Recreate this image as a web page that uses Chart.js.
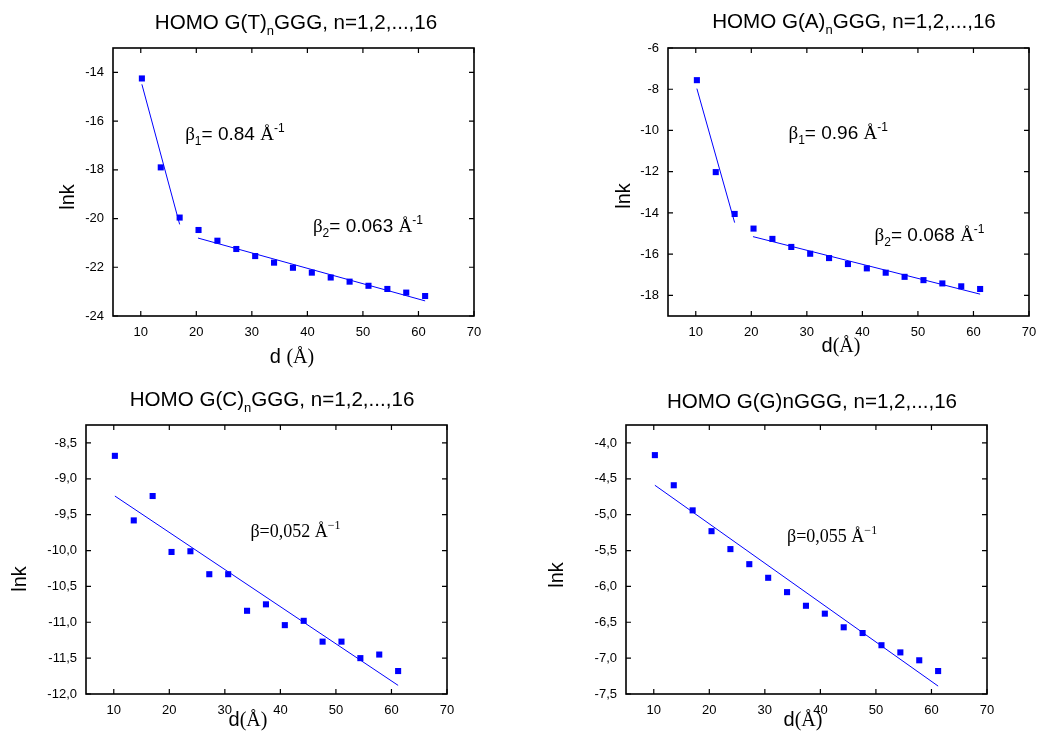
<!DOCTYPE html>
<html>
<head>
<meta charset="UTF-8">
<title>HOMO lnk vs d</title>
<script src="https://cdn.jsdelivr.net/npm/chart.js"></script>
<style>
body { margin: 0; background: #fff; }
.panel { position: absolute; }
</style>
</head>
<body>
<div class="panel" style="left:0;top:0"><canvas id="cT" width="520" height="370"></canvas></div>
<div class="panel" style="left:520px;top:0"><canvas id="cA" width="521" height="370"></canvas></div>
<div class="panel" style="left:0;top:370px"><canvas id="cC" width="520" height="364"></canvas></div>
<div class="panel" style="left:520px;top:370px"><canvas id="cG" width="521" height="364"></canvas></div>

<script>
// distance d (Å), n = 1..16
const dist = [10.2, 13.6, 17.0, 20.4, 23.8, 27.2, 30.6, 34.0, 37.4, 40.8, 44.2, 47.6, 51.0, 54.4, 57.8, 61.2];

// lnk values
const lnkT = [-14.25, -17.9, -19.96, -20.47, -20.91, -21.25, -21.54, -21.81, -22.02, -22.22, -22.42, -22.59, -22.76, -22.89, -23.04, -23.18];
const lnkA = [-7.56, -12.02, -14.05, -14.76, -15.26, -15.65, -15.98, -16.19, -16.48, -16.69, -16.90, -17.10, -17.26, -17.42, -17.56, -17.69];
const lnkC = [-8.68, -9.58, -9.24, -10.02, -10.01, -10.33, -10.33, -10.84, -10.75, -11.04, -10.98, -11.27, -11.27, -11.50, -11.45, -11.68];
const lnkG = [-4.17, -4.59, -4.94, -5.23, -5.48, -5.69, -5.88, -6.08, -6.27, -6.38, -6.57, -6.65, -6.82, -6.92, -7.03, -7.18];

// fitted lines (end points)
const fitShortX = [10.2, 17.0];
const fitLongX = [20.3, 61.2];
const fitAllX = [10.2, 61.2];
const fitT1 = [-14.49, -20.24];
const fitT2 = [-20.80, -23.38];
const fitA1 = [-7.97, -14.47];
const fitA2 = [-15.15, -17.94];
const fitC = [-9.24, -11.88];
const fitG = [-4.59, -7.39];

// ticks
const xTicks = [10, 20, 30, 40, 50, 60, 70];
const yTicksT = [-24, -22, -20, -18, -16, -14];
const yTicksA = [-18, -16, -14, -12, -10, -8, -6];
const yTicksC = [-12, -11.5, -11, -10.5, -10, -9.5, -9, -8.5];
const yTicksG = [-7.5, -7, -6.5, -6, -5.5, -5, -4.5, -4];

const sans = s => s + 'px "Liberation Sans", Arial, sans-serif';
const serif = s => s + 'px "Liberation Serif", "Times New Roman", serif';
const BLUE = '#0000ff';

function drawRich(ctx, x, y, parts, align) {
  let w = 0;
  parts.forEach(p => { ctx.font = p.f; w += ctx.measureText(p.t).width; });
  let cx = align === 'center' ? x - w / 2 : x;
  parts.forEach(p => {
    ctx.font = p.f;
    ctx.fillText(p.t, cx, y + (p.dy || 0));
    cx += ctx.measureText(p.t).width;
  });
}

function drawDecor(chart, p) {
  const { ctx, chartArea: a } = chart;
  const xs = chart.scales.x, ys = chart.scales.y;
  ctx.save();
  ctx.strokeStyle = '#000';
  ctx.lineWidth = 1.6;
  ctx.strokeRect(a.left, a.top, a.right - a.left, a.bottom - a.top);

  // inward ticks on all four sides
  ctx.lineWidth = 1.2;
  ctx.beginPath();
  xs.ticks.forEach(t => {
    const px = xs.getPixelForValue(t.value);
    ctx.moveTo(px, a.bottom); ctx.lineTo(px, a.bottom - 5);
    ctx.moveTo(px, a.top); ctx.lineTo(px, a.top + 5);
  });
  ys.ticks.forEach(t => {
    const py = ys.getPixelForValue(t.value);
    ctx.moveTo(a.left, py); ctx.lineTo(a.left + 5, py);
    ctx.moveTo(a.right, py); ctx.lineTo(a.right - 5, py);
  });
  ctx.stroke();

  ctx.fillStyle = '#000';
  ctx.textAlign = 'left';
  ctx.textBaseline = 'alphabetic';
  drawRich(ctx, p.titleAt[0], p.titleAt[1], p.title, 'center');
  drawRich(ctx, p.xLabelAt[0], p.xLabelAt[1], p.xLabel, 'center');

  ctx.save();
  ctx.translate(p.yLabelAt[0], p.yLabelAt[1]);
  ctx.rotate(-Math.PI / 2);
  drawRich(ctx, 0, 0, [{ t: 'lnk', f: sans(20) }], 'center');
  ctx.restore();

  p.notes.forEach(n => {
    drawRich(ctx, xs.getPixelForValue(n.x), ys.getPixelForValue(n.y), n.parts, 'left');
  });
  ctx.restore();
}

function pts(xv, yv) {
  return xv.map((x, i) => ({ x: x, y: yv[i] }));
}

function makePanel(id, p) {
  const datasets = [{
    data: pts(dist, p.lnk),
    pointStyle: 'rect',
    pointRadius: 4.3,
    backgroundColor: BLUE,
    borderWidth: 0,
    showLine: false
  }];
  p.fits.forEach(f => datasets.push({
    data: pts(f[0], f[1]),
    showLine: true,
    pointRadius: 0,
    borderColor: BLUE,
    borderWidth: 1
  }));

  new Chart(document.getElementById(id), {
    type: 'scatter',
    data: { datasets: datasets },
    options: {
      responsive: false,
      animation: false,
      layout: { padding: p.pad },
      plugins: { legend: { display: false }, tooltip: { enabled: false } },
      scales: {
        x: {
          min: 5, max: 70,
          grid: { display: false, drawTicks: false },
          border: { display: false },
          afterBuildTicks: s => { s.ticks = xTicks.map(v => ({ value: v })); },
          afterFit: s => { s.height = 30; s.paddingLeft = 0; s.paddingRight = 0; },
          ticks: { color: '#000', font: { family: '"Liberation Sans", Arial', size: 13 }, padding: 9, maxRotation: 0 }
        },
        y: {
          min: p.yMin, max: p.yMax,
          grid: { display: false, drawTicks: false },
          border: { display: false },
          afterBuildTicks: s => { s.ticks = p.yTicks.map(v => ({ value: v })); },
          afterFit: s => { s.width = 50; },
          ticks: {
            color: '#000', font: { family: '"Liberation Sans", Arial', size: 13 }, padding: 9,
            callback: v => p.comma ? v.toFixed(1).replace('.', ',') : String(v)
          }
        }
      }
    },
    plugins: [{ id: 'decor', afterDraw: chart => drawDecor(chart, p) }]
  });
}

makePanel('cT', {
  lnk: lnkT, fits: [[fitShortX, fitT1], [fitLongX, fitT2]],
  yMin: -24, yMax: -13, yTicks: yTicksT, comma: false,
  pad: { left: 63, right: 46, top: 48, bottom: 24 },
  titleAt: [296, 29],
  title: [{ t: 'HOMO G(T)', f: sans(20.6) }, { t: 'n', f: sans(13), dy: 6 }, { t: 'GGG, n=1,2,...,16', f: sans(20.6) }],
  xLabelAt: [292, 363],
  xLabel: [{ t: 'd ', f: sans(20) }, { t: '(Å)', f: serif(20) }],
  yLabelAt: [74, 197],
  notes: [
    { x: 18.0, y: -16.79, parts: [{ t: 'β', f: serif(19) }, { t: '1', f: sans(12), dy: 5 }, { t: '= 0.84 ', f: sans(19) }, { t: 'Å', f: serif(19) }, { t: '-1', f: sans(12), dy: -8 }] },
    { x: 41.0, y: -20.55, parts: [{ t: 'β', f: serif(19) }, { t: '2', f: sans(12), dy: 5 }, { t: '= 0.063 ', f: sans(19) }, { t: 'Å', f: serif(19) }, { t: '-1', f: sans(12), dy: -8 }] }
  ]
});

makePanel('cA', {
  lnk: lnkA, fits: [[fitShortX, fitA1], [fitLongX, fitA2]],
  yMin: -19, yMax: -6, yTicks: yTicksA, comma: false,
  pad: { left: 98, right: 12, top: 48, bottom: 24 },
  titleAt: [334, 28],
  title: [{ t: 'HOMO G(A)', f: sans(20.6) }, { t: 'n', f: sans(13), dy: 6 }, { t: 'GGG, n=1,2,...,16', f: sans(20.6) }],
  xLabelAt: [321, 352],
  xLabel: [{ t: 'd', f: sans(20) }, { t: '(Å)', f: serif(20) }],
  yLabelAt: [110, 196],
  notes: [
    { x: 26.7, y: -10.43, parts: [{ t: 'β', f: serif(19) }, { t: '1', f: sans(12), dy: 5 }, { t: '= 0.96 ', f: sans(19) }, { t: 'Å', f: serif(19) }, { t: '-1', f: sans(12), dy: -8 }] },
    { x: 42.2, y: -15.34, parts: [{ t: 'β', f: serif(19) }, { t: '2', f: sans(12), dy: 5 }, { t: '= 0.068 ', f: sans(19) }, { t: 'Å', f: serif(19) }, { t: '-1', f: sans(12), dy: -8 }] }
  ]
});

makePanel('cC', {
  lnk: lnkC, fits: [[fitAllX, fitC]],
  yMin: -12, yMax: -8.25, yTicks: yTicksC, comma: true,
  pad: { left: 36, right: 73, top: 55, bottom: 10 },
  titleAt: [272, 36],
  title: [{ t: 'HOMO G(C)', f: sans(20.6) }, { t: 'n', f: sans(13), dy: 6 }, { t: 'GGG, n=1,2,...,16', f: sans(20.6) }],
  xLabelAt: [248, 356],
  xLabel: [{ t: 'd', f: sans(20) }, { t: '(Å)', f: serif(20) }],
  yLabelAt: [26, 209],
  notes: [
    { x: 34.6, y: -9.81, parts: [{ t: 'β=0,052 Å', f: serif(18) }, { t: '−1', f: serif(12), dy: -8 }] }
  ]
});

makePanel('cG', {
  lnk: lnkG, fits: [[fitAllX, fitG]],
  yMin: -7.5, yMax: -3.75, yTicks: yTicksG, comma: true,
  pad: { left: 56, right: 54, top: 55, bottom: 10 },
  titleAt: [292, 38],
  title: [{ t: 'HOMO G(G)nGGG, n=1,2,...,16', f: sans(20.6) }],
  xLabelAt: [283, 356],
  xLabel: [{ t: 'd', f: sans(20) }, { t: '(Å)', f: serif(20) }],
  yLabelAt: [43, 205],
  notes: [
    { x: 34.0, y: -5.38, parts: [{ t: 'β=0,055 Å', f: serif(18) }, { t: '−1', f: serif(12), dy: -8 }] }
  ]
});
</script>
</body>
</html>
